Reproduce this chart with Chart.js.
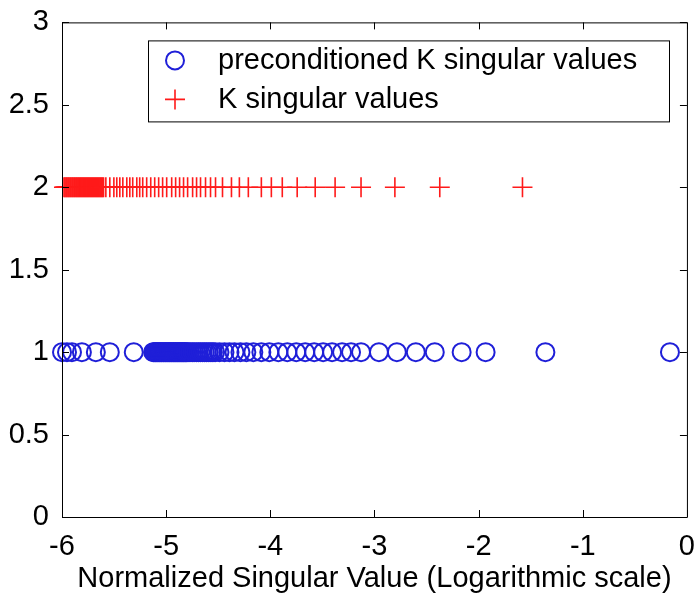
<!DOCTYPE html>
<html>
<head>
<meta charset="utf-8">
<script src="https://cdn.jsdelivr.net/npm/chart.js@4/dist/chart.umd.min.js"></script>
<style>
  html, body { margin: 0; padding: 0; background: #fff; }
  #wrap { width: 700px; height: 600px; }
</style>
</head>
<body>
<div id="wrap"><canvas id="myChart"></canvas></div>
<script>
// log10 of normalized singular values, one row per matrix
const preconditionedK = [
  -6.0, -5.952, -5.904, -5.809, -5.675, -5.541, -5.311,
  -5.125, -5.116, -5.106, -5.097, -5.087, -5.078, -5.068, -5.059, -5.049, -5.04,
  -5.03, -5.021, -5.011, -5.002, -4.992, -4.983, -4.973, -4.964, -4.954, -4.945,
  -4.935, -4.926, -4.916, -4.907, -4.897, -4.888, -4.878, -4.869, -4.859, -4.85,
  -4.84, -4.831, -4.821, -4.812, -4.802,
  -4.79, -4.771, -4.75, -4.732, -4.71, -4.69, -4.671, -4.65, -4.63, -4.611,
  -4.59, -4.57, -4.551, -4.53,
  -4.488, -4.44, -4.392, -4.344, -4.287, -4.23, -4.163, -4.086, -4.01, -3.923,
  -3.837, -3.751, -3.665, -3.579, -3.493, -3.407, -3.311, -3.225, -3.129,
  -2.957, -2.785, -2.603, -2.421, -2.163, -1.933, -1.359, -0.163,
];
const plainK = [
  -5.981, -5.972, -5.962, -5.953, -5.943, -5.934, -5.924, -5.915, -5.905, -5.896,
  -5.886, -5.877, -5.867, -5.858, -5.848, -5.839, -5.829, -5.82, -5.81, -5.801,
  -5.791, -5.782, -5.772, -5.763, -5.753, -5.744, -5.734, -5.725, -5.715, -5.706,
  -5.696, -5.687, -5.677, -5.668, -5.658, -5.649, -5.639, -5.63, -5.62, -5.611,
  -5.601,
  -5.579, -5.541, -5.502, -5.474, -5.445, -5.416, -5.378, -5.349, -5.321, -5.282,
  -5.254, -5.225, -5.187, -5.148, -5.11, -5.072, -5.034, -4.995, -4.947, -4.909,
  -4.871, -4.833, -4.794, -4.746, -4.708, -4.67, -4.622, -4.574, -4.526, -4.459,
  -4.373, -4.297, -4.211, -4.086, -3.99, -3.885, -3.742, -3.569, -3.378, -3.129,
  -2.804, -2.373, -1.579,
];
const rowPreconditioned = 1;
const rowPlain = 2;
const seriesLabels = ["preconditioned K singular values", "K singular values"];
const xTicks = [-6, -5, -4, -3, -2, -1, 0];
const yTicks = [0, 0.5, 1, 1.5, 2, 2.5, 3];
const xTitle = "Normalized Singular Value (Logarithmic scale)";

const FONT = { family: "'Liberation Sans', Arial, Helvetica, sans-serif", size: 29 };

// box around the axes with inward ticks on every side
const framePlugin = {
  id: "frame",
  afterDraw(chart) {
    const { ctx, chartArea: a, scales } = chart;
    const len = 7;
    ctx.save();
    ctx.strokeStyle = "#000";
    ctx.lineWidth = 1;
    ctx.beginPath();
    ctx.rect(a.left + 0.5, a.top + 0.5, a.right - a.left, a.bottom - a.top);
    scales.x.ticks.forEach((t) => {
      const x = Math.round(scales.x.getPixelForValue(t.value)) + 0.5;
      ctx.moveTo(x, a.bottom); ctx.lineTo(x, a.bottom - len);
      ctx.moveTo(x, a.top); ctx.lineTo(x, a.top + len);
    });
    scales.y.ticks.forEach((t) => {
      const y = Math.round(scales.y.getPixelForValue(t.value)) + 0.5;
      ctx.moveTo(a.left, y); ctx.lineTo(a.left + len, y);
      ctx.moveTo(a.right, y); ctx.lineTo(a.right - len, y);
    });
    ctx.stroke();
    ctx.restore();
  },
};

// legend box in the upper part of the plot
const boxLegend = {
  id: "boxLegend",
  afterDraw(chart) {
    const { ctx, chartArea: a } = chart;
    const x0 = a.left + 86, y0 = a.top + 18, w = 521, h = 81;
    ctx.save();
    ctx.fillStyle = "#fff";
    ctx.fillRect(x0, y0, w, h);
    ctx.strokeStyle = "#000";
    ctx.lineWidth = 1;
    ctx.strokeRect(x0 + 0.5, y0 + 0.5, w, h);
    ctx.font = `${FONT.size}px ${FONT.family}`;
    ctx.textBaseline = "middle";
    ctx.fillStyle = "#000";
    chart.data.datasets.forEach((ds, i) => {
      const my = y0 + 20 + i * 39;
      const mx = x0 + 27;
      ctx.strokeStyle = ds.borderColor;
      ctx.lineWidth = ds.borderWidth;
      ctx.beginPath();
      if (ds.pointStyle === "circle") {
        ctx.arc(mx, my, ds.pointRadius, 0, Math.PI * 2);
      } else {
        ctx.moveTo(mx - ds.pointRadius, my); ctx.lineTo(mx + ds.pointRadius, my);
        ctx.moveTo(mx, my - ds.pointRadius); ctx.lineTo(mx, my + ds.pointRadius);
      }
      ctx.stroke();
      ctx.fillText(ds.label, x0 + 70, my + 1);
    });
    ctx.restore();
  },
};

const ctx = document.getElementById("myChart").getContext("2d");
const myChart = new Chart(ctx, {
  type: "scatter",
  data: {
    datasets: [
      {
        label: seriesLabels[0],
        data: preconditionedK.map((v) => ({ x: v, y: rowPreconditioned })),
        pointStyle: "circle",
        pointRadius: 9,
        borderWidth: 2,
        borderColor: "#1f1fd8",
        backgroundColor: "rgba(0,0,0,0)",
      },
      {
        label: seriesLabels[1],
        data: plainK.map((v) => ({ x: v, y: rowPlain })),
        pointStyle: "cross",
        pointRadius: 10,
        borderWidth: 1.6,
        borderColor: "#ff1a1a",
        backgroundColor: "rgba(0,0,0,0)",
      },
    ],
  },
  options: {
    responsive: true,
    maintainAspectRatio: false,
    animation: false,
    clip: false,
    layout: { padding: { top: 10, right: 11, left: 0, bottom: 0 } },
    plugins: { legend: { display: false }, tooltip: { enabled: false } },
    elements: { point: { hoverRadius: 9 } },
    scales: {
      x: {
        type: "linear",
        min: -6,
        max: 0,
        afterBuildTicks: (s) => { s.ticks = xTicks.map((v) => ({ value: v })); },
        afterFit: (s) => { s.height = 83; },
        grid: { display: false },
        border: { display: false },
        ticks: { color: "#000", font: FONT, padding: 5, maxRotation: 0, callback: (v) => String(v) },
        title: { display: true, text: xTitle, color: "#000", font: FONT, padding: { top: 0, bottom: 4 } },
      },
      y: {
        type: "linear",
        min: 0,
        max: 3,
        afterBuildTicks: (s) => { s.ticks = yTicks.map((v) => ({ value: v })); },
        afterFit: (s) => { s.width = 62; },
        grid: { display: false },
        border: { display: false },
        ticks: { color: "#000", font: FONT, padding: 5, callback: (v) => String(v) },
      },
    },
  },
  plugins: [framePlugin, boxLegend],
});
</script>
</body>
</html>
